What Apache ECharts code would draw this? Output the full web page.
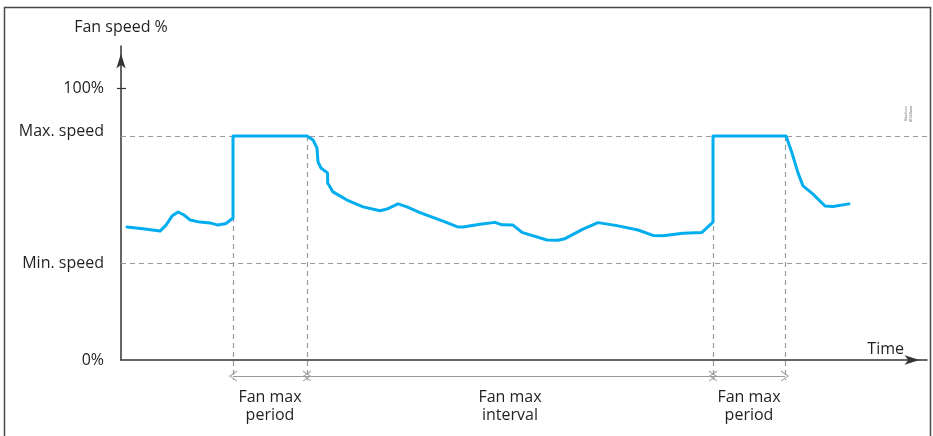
<!DOCTYPE html>
<html>
<head>
<meta charset="utf-8">
<script src="https://cdn.jsdelivr.net/npm/echarts@6/dist/echarts.min.js"></script>
<style>html,body{margin:0;padding:0;background:#fff}#c{width:933px;height:436px}</style>
</head>
<body>
<div id="c"></div>
<script>
// ---- data (time in arbitrary units, speed in %) ----
const timeValues  = [6, 24, 39, 45, 51, 57, 63, 69, 79, 89, 97, 105, 112, 112, 186, 192, 196, 197, 200, 206.5, 206.7, 212, 226, 242, 259, 266, 277, 286, 299, 324, 336, 342, 359, 374, 381, 392, 401, 409, 426, 437, 444, 462, 477, 496, 517, 532, 542, 562, 581, 592, 592, 665, 671, 677, 682, 692, 704, 712, 728];
const speedValues = [48.9, 48.2, 47.4, 49.6, 52.9, 54.4, 53.3, 51.5, 50.7, 50.4, 49.6, 50.2, 52.2, 82.35, 82.35, 80.9, 77.9, 72.8, 70.6, 68.8, 65.1, 61.8, 58.8, 56.3, 54.9, 55.5, 57.4, 56.3, 54.2, 50.8, 49.0, 48.9, 49.9, 50.6, 49.7, 49.6, 46.9, 46.0, 44.1, 44.0, 44.6, 48.1, 50.5, 49.4, 47.8, 45.8, 45.7, 46.6, 46.9, 50.7, 82.35, 82.35, 76.1, 68.8, 64.0, 61.0, 56.6, 56.4, 57.4];
const yTickValues = [0, 35.5, 82.35, 100];
const yTickLabels = ['0%', 'Min. speed', 'Max. speed', '100%'];
const maxSpeed = 82.35;
const minSpeed = 35.5;
const periodBounds = [112, 186, 592, 664];
const spanLabels = ['Fan max\nperiod', 'Fan max\ninterval', 'Fan max\nperiod'];
const yAxisName = 'Fan speed %';
const xAxisName = 'Time';

const FONT = '"Open Sans", sans-serif';
const FS = 16;
const TXT = '#231f20';
const GUIDE = '#9a9a9a';

const chart = echarts.init(document.getElementById('c'), null, {renderer: 'canvas'});

const chevron = 'path://M0,100 L50,0 L100,100 L90,100 L50,20 L10,100 Z';

const spanY = -5.9;     // arrow line level below axis
const dropY = -7.35;    // bottom end of vertical guides
const labelY = -16.9;   // label block centre

const spans = [];
for (let i = 0; i < periodBounds.length - 1; i++) {
  spans.push([{coord: [periodBounds[i], spanY]}, {coord: [periodBounds[i + 1], spanY]}]);
}
const labelData = spanLabels.map((t, i) => ({value: [(periodBounds[i] + periodBounds[i + 1]) / 2, labelY], name: t}));

function labelFor(v) {
  let best = 0;
  for (let i = 0; i < yTickValues.length; i++) {
    if (Math.abs(yTickValues[i] - v) < Math.abs(yTickValues[best] - v)) best = i;
  }
  return best === 2 ? '{up|' + yTickLabels[best] + '}' : yTickLabels[best];
}

chart.setOption({
  animation: false,
  backgroundColor: '#fff',
  grid: [
    {left: 121, right: 6, top: 46, bottom: 76},
    {left: 121, right: 6, top: 46, bottom: 0}
  ],
  xAxis: [
    {
      type: 'value', gridIndex: 0, min: 0, max: 806,
      axisLine: {show: true, onZero: true, symbol: ['none', 'arrow'], symbolSize: [7, 15], symbolOffset: [0, -7.5],
        lineStyle: {color: '#333', width: 1.5}},
      axisTick: {show: false}, axisLabel: {show: false}, splitLine: {show: false},
      name: xAxisName, nameLocation: 'end', nameGap: -23,
      nameTextStyle: {fontFamily: FONT, fontSize: FS, color: TXT, align: 'right', verticalAlign: 'bottom', padding: [0, 0, 3, 0]}
    },
    {type: 'value', gridIndex: 1, min: 0, max: 806, show: false}
  ],
  yAxis: [
    {
      type: 'value', gridIndex: 0, min: 0, max: 115.44,
      axisLine: {show: true, symbol: ['none', 'arrow'], symbolSize: [7, 15], symbolOffset: [0, -7.5],
        lineStyle: {color: '#333', width: 1.5}},
      axisTick: {show: true, customValues: [100], length: 4, lineStyle: {color: '#333', width: 1.2}},
      axisLabel: {show: true, customValues: yTickValues, margin: 17, fontFamily: FONT, fontSize: FS, color: TXT,
        formatter: labelFor, rich: {up: {fontFamily: FONT, fontSize: FS, color: TXT, padding: [0, 0, 10, 0]}}},
      splitLine: {show: false},
      name: yAxisName, nameLocation: 'end', nameGap: 11,
      nameTextStyle: {fontFamily: FONT, fontSize: FS, color: TXT}
    },
    {
      type: 'value', gridIndex: 0, min: 0, max: 115.44, position: 'left',
      axisLine: {show: false},
      axisTick: {show: true, inside: true, customValues: [100], length: 5, lineStyle: {color: '#333', width: 1.2}},
      axisLabel: {show: false}, splitLine: {show: false}
    },
    {type: 'value', gridIndex: 1, min: -27.94, max: 115.44, show: false}
  ],
  series: [
    {
      type: 'line', xAxisIndex: 0, yAxisIndex: 0, z: 1,
      data: [],
      markLine: {
        silent: true, symbol: ['none', 'none'], label: {show: false},
        lineStyle: {color: GUIDE, type: [5, 4], width: 1.2},
        data: [{yAxis: maxSpeed}, {yAxis: minSpeed}]
      }
    },
    {
      type: 'line', xAxisIndex: 1, yAxisIndex: 2, z: 1,
      data: [],
      markLine: {
        silent: true, symbol: ['none', 'none'], label: {show: false},
        lineStyle: {color: GUIDE, type: [5, 4], width: 1.2},
        data: periodBounds.map(x => [{coord: [x, maxSpeed]}, {coord: [x, dropY]}])
      }
    },
    {
      type: 'line', xAxisIndex: 1, yAxisIndex: 2, z: 1,
      data: [],
      markLine: {
        silent: true, symbol: [chevron, chevron], symbolSize: [11, 8], label: {show: false},
        lineStyle: {color: GUIDE, type: 'solid', width: 1},
        data: spans
      }
    },
    {
      type: 'scatter', xAxisIndex: 1, yAxisIndex: 2,
      symbolSize: 1, itemStyle: {color: 'rgba(0,0,0,0)', opacity: 1}, silent: true,
      label: {show: true, position: 'inside', formatter: p => p.name, fontFamily: FONT, fontSize: FS, lineHeight: 18, color: TXT, opacity: 1},
      data: labelData
    },
    {
      type: 'line', xAxisIndex: 0, yAxisIndex: 0, z: 5,
      data: timeValues.map((t, i) => [t, speedValues[i]]),
      symbol: 'none', smooth: false,
      lineStyle: {color: '#00aeef', width: 3, join: 'round', cap: 'round'}
    }
  ],
  graphic: [
    {type: 'rect', shape: {x: 4.5, y: 7.5, width: 926, height: 440}, style: {fill: 'none', stroke: '#4a4a4a', lineWidth: 1.5}, silent: true},
    {type: 'text', x: 908, y: 114, rotation: Math.PI / 2, silent: true,
      style: {text: 'Danfoss\n80G8xxx', fontSize: 4, lineHeight: 5, fill: '#666', align: 'center', verticalAlign: 'middle', fontFamily: FONT}}
  ]
});
</script>
</body>
</html>
